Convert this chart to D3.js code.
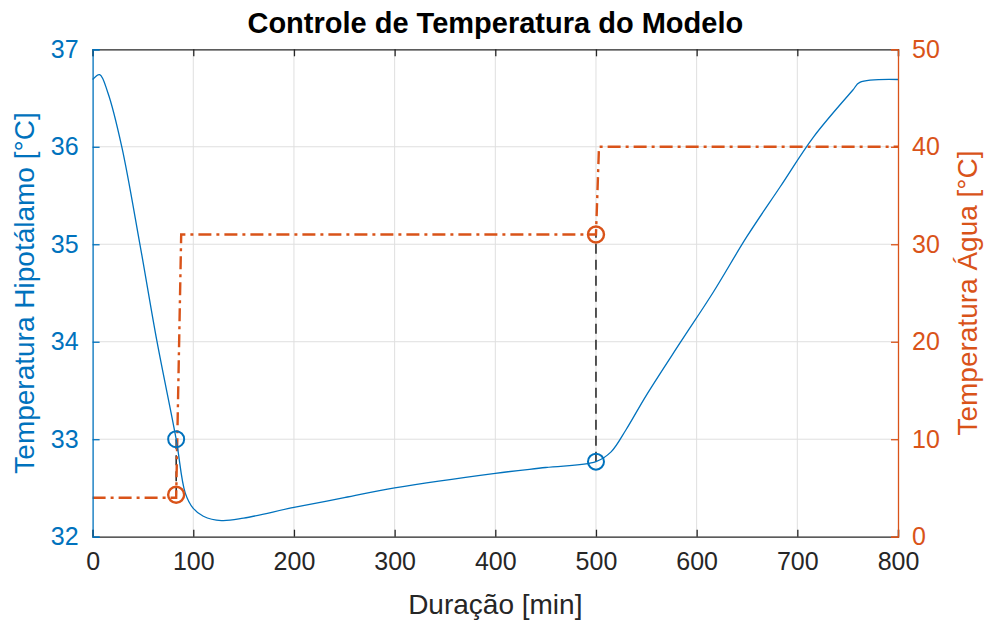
<!DOCTYPE html>
<html>
<head>
<meta charset="utf-8">
<script src="https://cdn.jsdelivr.net/npm/d3@7"></script>
<style>
  html, body { margin: 0; padding: 0; background: #fff; }
  svg { display: block; font-family: "Liberation Sans", Arial, Helvetica, sans-serif; }
</style>
</head>
<body>
<svg id="chart" width="989" height="622"></svg>
<script>
// Hypothalamus temperature (left axis)
const timeMin = [0, 7, 15, 29, 47, 64, 83, 92, 100, 110, 128, 150, 200, 250, 300, 400, 450, 500, 515, 530, 550, 583, 616, 650, 683, 716, 755, 762, 800];
const hypoTemp = [36.69, 36.74, 36.56, 36.0, 35.0, 34.0, 33.0, 32.45, 32.29, 32.21, 32.165, 32.19, 32.30, 32.40, 32.50, 32.65, 32.71, 32.77, 32.87, 33.1, 33.45, 33.98, 34.50, 35.08, 35.59, 36.10, 36.58, 36.66, 36.69];

// Water temperature set-point (right axis)
const waterTime = [0, 83, 88, 500, 503, 800];
const waterTemp = [4, 4, 31, 31, 40, 40];

// Switching instants
const switchTime = [83, 500];
const switchHypo = [33.0, 32.77];
const switchWater = [4.3, 31];

const xTicks = [0, 100, 200, 300, 400, 500, 600, 700, 800];
const leftTicks = [32, 33, 34, 35, 36, 37];
const rightTicks = [0, 10, 20, 30, 40, 50];

const BLUE = "#0072BD", ORANGE = "#D95319", AXIS = "#262626";
const FONT = "'Liberation Sans', Arial, Helvetica, sans-serif";
const L = 92.6, R = 898, T = 49.3, B = 536.7;

const svg = d3.select("#chart");
const x = d3.scaleLinear().domain([0, 800]).range([L, R]);
const yL = d3.scaleLinear().domain([32, 37]).range([B, T]);
const yR = d3.scaleLinear().domain([0, 50]).range([B, T]);

// grid
const grid = svg.append("g").attr("stroke", "#dfdfdf").attr("stroke-width", 1);
grid.selectAll(".gx").data(xTicks.slice(1, -1)).join("line")
  .attr("x1", d => x(d)).attr("x2", d => x(d)).attr("y1", T).attr("y2", B);
grid.selectAll(".gy").data(leftTicks.slice(1, -1)).join("line")
  .attr("x1", L).attr("x2", R).attr("y1", d => yL(d)).attr("y2", d => yL(d));

// black dashed connectors between the markers
svg.append("g").selectAll("line").data(switchTime).join("line")
  .attr("x1", d => x(d)).attr("x2", d => x(d))
  .attr("y1", (d, i) => yL(switchHypo[i]))
  .attr("y2", (d, i) => yR(switchWater[i]))
  .attr("stroke", "#000").attr("stroke-width", 1.3).attr("stroke-dasharray", "10,6");

// water line
svg.append("path")
  .datum(waterTime.map((t, i) => [t, waterTemp[i]]))
  .attr("fill", "none").attr("stroke", ORANGE).attr("stroke-width", 2.4)
  .attr("stroke-dasharray", "13,5,3,5")
  .attr("d", d3.line().x(d => x(d[0])).y(d => yR(d[1])));

// hypothalamus line
svg.append("path")
  .datum(timeMin.map((t, i) => [t, hypoTemp[i]]))
  .attr("fill", "none").attr("stroke", BLUE).attr("stroke-width", 1.3)
  .attr("d", d3.line().curve(d3.curveCatmullRom.alpha(0.5)).x(d => x(d[0])).y(d => yL(d[1])));

// markers
svg.append("g").selectAll("circle").data(switchTime).join("circle")
  .attr("cx", d => x(d)).attr("cy", (d, i) => yL(switchHypo[i])).attr("r", 8)
  .attr("fill", "none").attr("stroke", BLUE).attr("stroke-width", 2);
svg.append("g").selectAll("circle").data(switchTime).join("circle")
  .attr("cx", d => x(d)).attr("cy", (d, i) => yR(switchWater[i])).attr("r", 8)
  .attr("fill", "none").attr("stroke", ORANGE).attr("stroke-width", 2.4);

// axes
const fs = 25;
const gB = svg.append("g").attr("transform", `translate(0,${B})`)
  .call(d3.axisBottom(x).tickValues(xTicks).tickSize(-7).tickPadding(16).tickFormat(d3.format("d")));
const gT = svg.append("g").attr("transform", `translate(0,${T})`)
  .call(d3.axisTop(x).tickValues(xTicks).tickSize(-7).tickFormat(""));
[gB, gT].forEach(g => {
  g.select(".domain").attr("stroke", AXIS).attr("stroke-width", 1.3);
  g.selectAll(".tick line").attr("stroke", AXIS).attr("stroke-width", 1.3);
});
gB.selectAll(".tick text").attr("fill", AXIS).attr("font-size", fs).attr("font-family", FONT);

const gLeft = svg.append("g").attr("transform", `translate(${L},0)`)
  .call(d3.axisLeft(yL).tickValues(leftTicks).tickSize(-7).tickPadding(14).tickFormat(d3.format("d")));
gLeft.select(".domain").attr("stroke", BLUE).attr("stroke-width", 1.3);
gLeft.selectAll(".tick line").attr("stroke", BLUE).attr("stroke-width", 1.3);
gLeft.selectAll(".tick text").attr("fill", BLUE).attr("font-size", fs).attr("font-family", FONT);

const gRight = svg.append("g").attr("transform", `translate(${R},0)`)
  .call(d3.axisRight(yR).tickValues(rightTicks).tickSize(-7).tickPadding(14).tickFormat(d3.format("d")));
gRight.select(".domain").attr("stroke", ORANGE).attr("stroke-width", 1.3);
gRight.selectAll(".tick line").attr("stroke", ORANGE).attr("stroke-width", 1.3);
gRight.selectAll(".tick text").attr("fill", ORANGE).attr("font-size", fs).attr("font-family", FONT);

// title and labels
svg.append("text").attr("x", (L + R) / 2).attr("y", 33).attr("text-anchor", "middle")
  .attr("font-family", FONT).attr("font-size", 29).attr("font-weight", "bold").attr("fill", "#000")
  .text("Controle de Temperatura do Modelo");
svg.append("text").attr("x", (L + R) / 2).attr("y", 614).attr("text-anchor", "middle")
  .attr("font-family", FONT).attr("font-size", 28).attr("fill", AXIS).text("Duração [min]");
svg.append("text").attr("transform", `translate(34,${(T + B) / 2}) rotate(-90)`)
  .attr("text-anchor", "middle").attr("font-family", FONT).attr("font-size", 28).attr("fill", BLUE)
  .text("Temperatura Hipotálamo [°C]");
svg.append("text").attr("transform", `translate(977,${(T + B) / 2}) rotate(-90)`)
  .attr("text-anchor", "middle").attr("font-family", FONT).attr("font-size", 28).attr("fill", ORANGE)
  .text("Temperatura Água [°C]");
</script>
</body>
</html>
